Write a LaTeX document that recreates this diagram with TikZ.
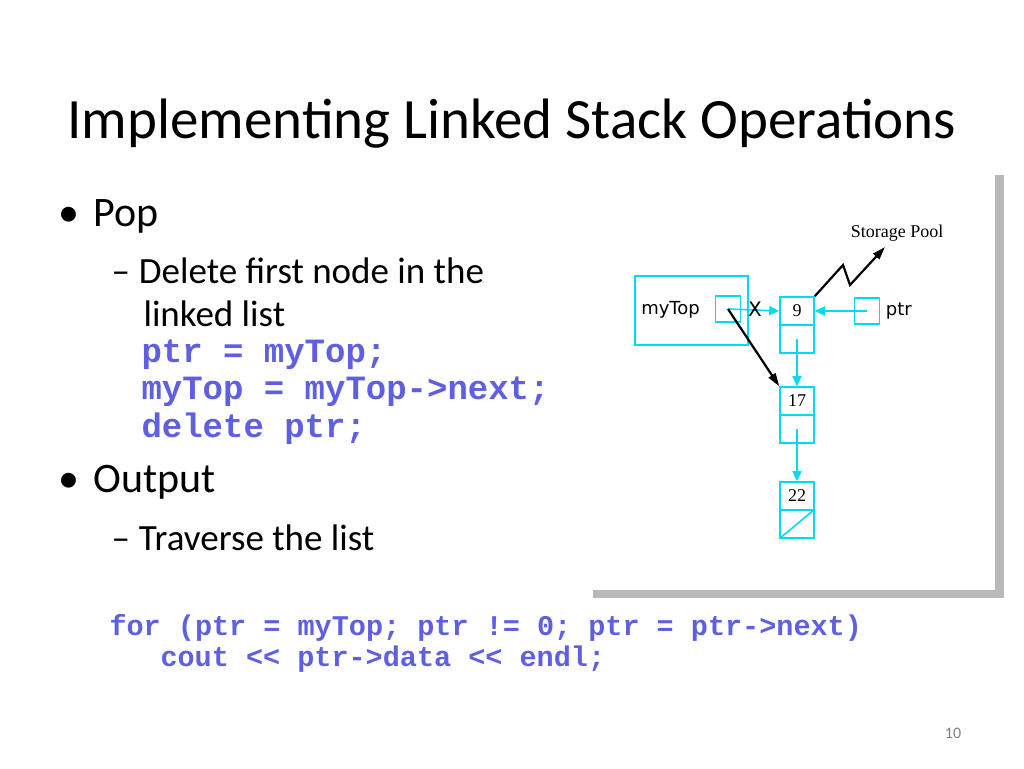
\documentclass[tikz,border=0pt]{standalone}
\usepackage{fontspec}
\setmainfont{Carlito}
\newfontfamily\codefont{Liberation Mono}
\newfontfamily\figfont{DejaVu Sans}
\newfontfamily\figserif{Liberation Serif}
\definecolor{codeblue}{RGB}{95,95,225}
\definecolor{cyanline}{RGB}{0,220,235}
\usetikzlibrary{arrows.meta,positioning}
\tikzset{
	cell/.style={rectangle, draw=cyanline, line width=1.6pt, minimum width=34pt, minimum height=28pt, inner sep=0pt, font=\figserif\fontsize{18}{18}\selectfont},
	code/.style={anchor=west, text=codeblue, font=\codefont\bfseries\fontsize{28.5}{28.5}\selectfont},
	cyanarrow/.style={-{Triangle[length=10pt,width=9pt]}, draw=cyanline, line width=1.6pt},
	blackarrow/.style={-{Triangle[length=13pt,width=8pt]}, line width=2.2pt}
}
\begin{document}
\begin{tikzpicture}[x=1pt,y=-1pt]
	\useasboundingbox (0,0) rectangle (1024,768);

	% slide text
	\node(title)[anchor=west, font=\fontsize{57}{57}\selectfont] at (64,124) {Implementing Linked Stack Operations};
	\node(pop)[anchor=west, font=\fontsize{42}{42}\selectfont] at (55,216) {\textbullet\hspace{14pt}Pop};
	\node(del)[anchor=west, font=\fontsize{37}{43}\selectfont, align=left] at (108,292) {--\hspace{9pt}Delete first node in the\\\hspace*{32pt}linked list};
	\node(c1)[code, font=\codefont\bfseries\fontsize{34}{34}\selectfont] at (138,355) {ptr = myTop;};
	\node(c2)[code, font=\codefont\bfseries\fontsize{34}{34}\selectfont] at (138,392) {myTop = myTop->next;};
	\node(c3)[code, font=\codefont\bfseries\fontsize{34}{34}\selectfont] at (138,429) {delete ptr;};
	\node(out)[anchor=west, font=\fontsize{42}{42}\selectfont] at (55,482) {\textbullet\hspace{14pt}Output};
	\node(trav)[anchor=west, font=\fontsize{37}{37}\selectfont] at (108,538) {--\hspace{9pt}Traverse the list};
	\node(f1)[code] at (106,628) {for (ptr = myTop; ptr != 0; ptr = ptr->next)};
	\node(f2)[code] at (157,659) {cout << ptr->data << endl;};
	\node(num)[text=gray, font=\fontsize{16}{16}\selectfont] at (953,733) {10};

	% picture panel with shadow
	\fill[gray!55] (995,175) rectangle (1004,598);
	\fill[gray!55] (593,590) rectangle (1004,598);

	% list cells
	\node(top)[cell, minimum width=113pt, minimum height=69pt, anchor=north west, font=\figfont\fontsize{18}{18}\selectfont, text width=100pt, align=left] at (634,275) {myTop};
	\node(topptr)[cell, minimum width=25pt, minimum height=26pt] at (728,309) {};
	\node(n9)[cell] at (797,311) {9};
	\node(n9b)[cell, below=-1.6pt of n9] {};
	\node(n17)[cell] at (797,401) {17};
	\node(n17b)[cell, below=-1.6pt of n17] {};
	\node(n22)[cell] at (797,496) {22};
	\node(n22b)[cell, below=-1.6pt of n22] {};
	\node(ptr)[cell, minimum width=25pt, minimum height=26pt] at (867,311) {};
	\node(ptrlbl)[right=2pt of ptr, font=\figfont\fontsize{18}{18}\selectfont] {ptr};
	\node(pool)[font=\figserif\fontsize{18}{18}\selectfont] at (897,233) {Storage Pool};
	\coordinate(poolend) at (885,247);

	% links
	\draw[cyanline, line width=1.6pt] (n22b.south west) -- (n22b.north east);
	\draw[cyanarrow] (topptr.center) -- (n9.west);
	\node(cross)[font=\figfont\fontsize{20}{20}\selectfont] at (755,309) {X};
	\draw[cyanarrow] (ptr.center) -- (n9.east);
	\draw[cyanarrow] (n9b.center) -- (n17.north);
	\draw[cyanarrow] (n17b.center) -- (n22.north);
	\draw[blackarrow] (topptr.center) -- (n17.north west);
	\draw[blackarrow] (n9.north east) -- (843,265) -- (850,285) -- (poolend);
\end{tikzpicture}
\end{document}
